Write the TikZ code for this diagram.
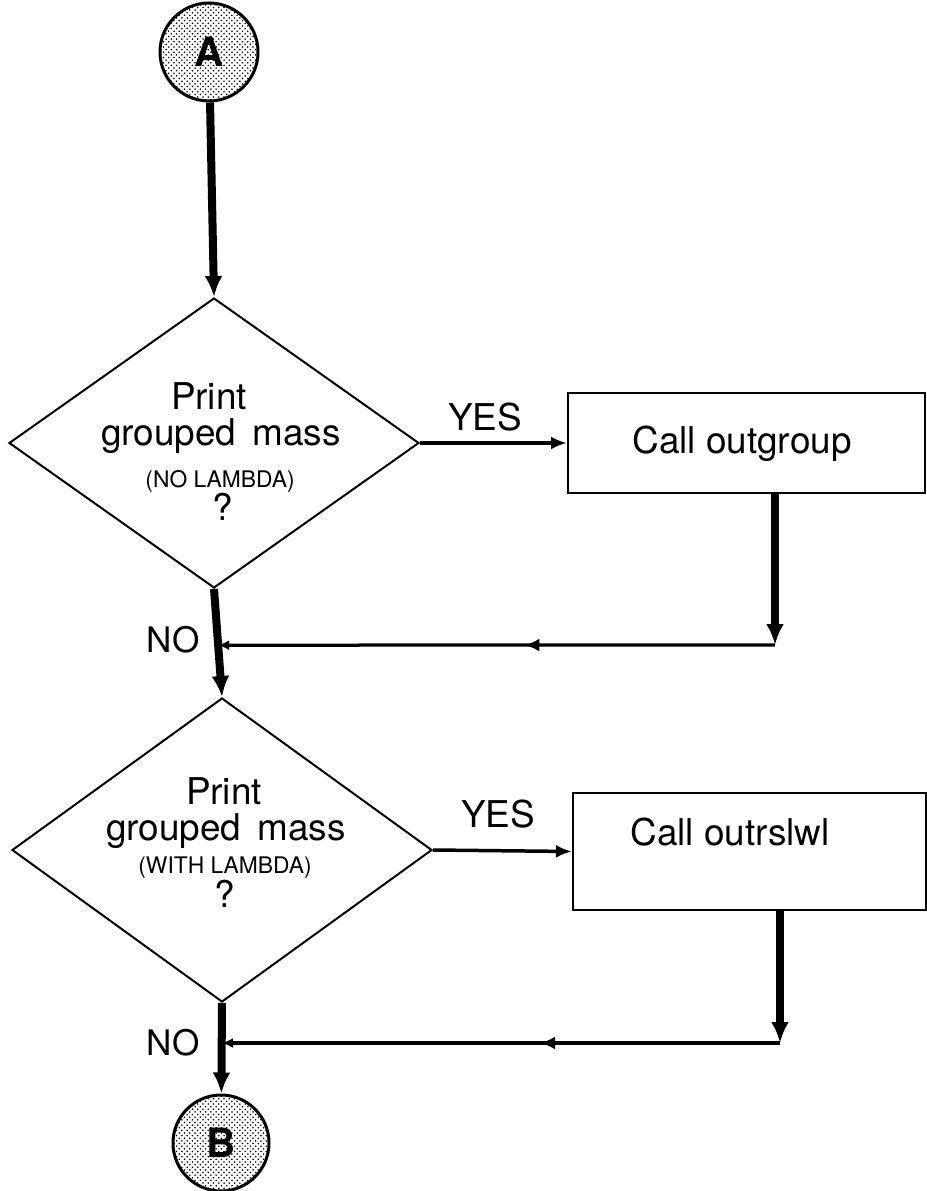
\documentclass[tikz,border=0pt]{standalone}
\usepackage{fontspec}
\setmainfont{TeX Gyre Heros}
\usepackage{tikz}
\usetikzlibrary{shapes.geometric,arrows.meta,decorations.markings,calc,patterns}

\begin{document}
\begin{tikzpicture}[
	flowarrow/.style={line width=0.16cm,-{Latex[length=0.42cm,width=0.36cm]}},
	yesarrow/.style={line width=0.07cm,-{Latex[length=0.32cm,width=0.26cm]}},
	returnline/.style={line width=0.065cm,-{Latex[length=0.22cm,width=0.2cm]},postaction={decorate},
		decoration={markings,mark=at position #1 with {\arrow{Latex[length=0.3cm,width=0.26cm]}}}},
	linkcircle/.style={circle,draw,line width=0.06cm,pattern=crosshatch dots,minimum size=1.96cm,inner sep=0pt,font=\fontsize{23}{23}\selectfont\bfseries},
	decision/.style={diamond,draw,line width=0.04cm,inner sep=0pt},
	action/.style={rectangle,draw,line width=0.04cm,inner sep=0pt},
	bigtext/.style={font=\fontsize{21}{21}\selectfont,anchor=base,inner sep=0pt},
	smalltext/.style={font=\fontsize{13}{13}\selectfont,anchor=base,inner sep=0pt}]
		\useasboundingbox (0,0) rectangle (18.52,-23.82); % page
\node[linkcircle] (A) at (4.18,-1.04) {A}; % entry
\node[decision,minimum width=8.2cm,minimum height=5.8cm] (d1) at (4.28,-8.86) {}; % test.1
\node[bigtext] (d1a) at (4.18,-8.18) {Print}; % test.1
\node[bigtext] (d1b) at (4.42,-8.90) {grouped\ \,mass}; % test.1
\node[smalltext] (d1c) at (4.40,-9.74) {(NO LAMBDA)}; % test.1
\node[bigtext] (d1d) at (4.46,-10.40) {?}; % test.1
\node[action,minimum width=7.14cm,minimum height=2.0cm] (box1) at (14.93,-8.86) {}; % call.1
\node[bigtext] (box1t) at (14.84,-9.06) {Call outgroup}; % call.1
\node[bigtext] (yes1) at (9.70,-8.60) {YES}; % test.1 yes
\node[bigtext,font=\fontsize{20}{20}\selectfont] (no1) at (3.46,-13.04) {NO}; % test.1 no
\node[decision,minimum width=8.4cm,minimum height=6.08cm] (d2) at (4.44,-17.00) {}; % test.2
\node[bigtext] (d2a) at (4.48,-16.08) {Print}; % test.2
\node[bigtext] (d2b) at (4.52,-16.80) {grouped\ \,mass}; % test.2
\node[smalltext] (d2c) at (4.50,-17.46) {(WITH LAMBDA)}; % test.2
\node[bigtext] (d2d) at (4.50,-18.14) {?}; % test.2
\node[action,minimum width=7.06cm,minimum height=2.34cm] (box2) at (14.99,-17.03) {}; % call.2
\node[bigtext] (box2t) at (14.60,-16.90) {Call outrslwl}; % call.2
\node[bigtext] (yes2) at (9.96,-16.54) {YES}; % test.2 yes
\node[bigtext,font=\fontsize{20}{20}\selectfont] (no2) at (3.46,-21.10) {NO}; % test.2 no
\node[linkcircle,minimum size=1.92cm] (B) at (4.42,-22.86) {B}; % exit
\coordinate (m1) at ($(d1.south)!0.52!(d2.north)$); % join.1
\coordinate (j1) at (15.50,-12.90); % join.1
\coordinate (j2) at (15.60,-20.86); % join.2
\coordinate (m2) at (d2.south |- j2); % join.2
\draw[flowarrow] (A) -- (d1.north); % entry
\draw[flowarrow] (d1.south) -- (d2.north); % test.1 no
\draw[flowarrow] (d2.south) -- (B); % test.2 no
\draw[yesarrow] (d1.east) -- (box1.west); % test.1 yes
\draw[yesarrow] (d2.east) -- (box2.west); % test.2 yes
\draw[flowarrow] (box1.south -| j1) -- (j1); % call.1 back
\draw[returnline=0.45] (j1) -- (m1); % call.1 back
\draw[flowarrow] (box2.south -| j2) -- (j2); % call.2 back
\draw[returnline=0.43] (j2) -- (m2); % call.2 back

		\end{tikzpicture}
\end{document}
